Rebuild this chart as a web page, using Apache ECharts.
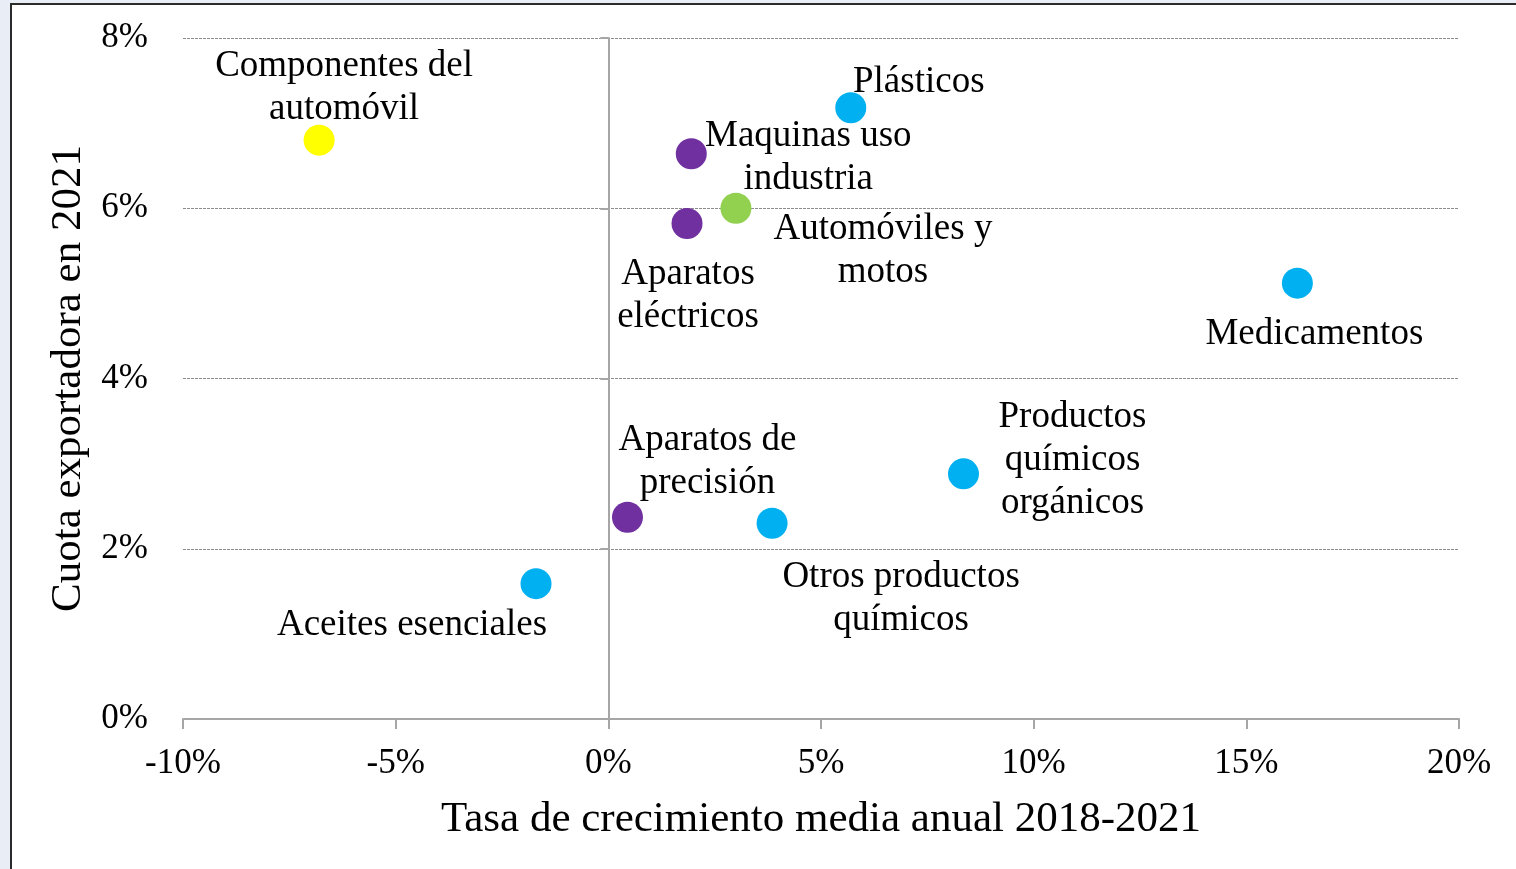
<!DOCTYPE html>
<html>
<head>
<meta charset="utf-8">
<script src="https://cdn.jsdelivr.net/npm/echarts@6/dist/echarts.min.js"></script>
<style>
  html, body { margin: 0; padding: 0; background: #e9eef6; overflow: hidden; }
  #card { position: absolute; left: 10px; top: 3px; width: 1520px; height: 890px; border: 2px solid #2b2b2b; background: #fff; box-sizing: border-box; }
  #chart { position: absolute; left: 0; top: 0; width: 1516px; height: 869px; }
</style>
</head>
<body>
<div id="card"></div>
<div id="chart"></div>
<script>
// datos
var productos = ['Componentes del\nautomóvil', 'Plásticos', 'Maquinas uso\nindustria', 'Automóviles y\nmotos',
  'Aparatos\neléctricos', 'Medicamentos', 'Productos\nquímicos\norgánicos', 'Otros productos\nquímicos',
  'Aparatos de\nprecisión', 'Aceites esenciales'];
var crecimiento = [-6.8, 5.7, 1.95, 3.0, 1.85, 16.2, 8.35, 3.85, 0.45, -1.7]; // % anual 2018-2021
var cuota = [6.8, 7.18, 6.64, 6.0, 5.82, 5.12, 2.88, 2.3, 2.37, 1.59];        // % en 2021
var grupo = ['componentes', 'quimica', 'maquinaria', 'automocion', 'maquinaria', 'quimica', 'quimica', 'quimica', 'maquinaria', 'quimica'];
var xTicks = [-10, -5, 0, 5, 10, 15, 20];
var yTicks = [0, 2, 4, 6, 8];

var colores = { quimica: '#00b0f0', maquinaria: '#7030a0', automocion: '#92d050', componentes: '#ffff00' };
// desplazamiento de las etiquetas (px) respecto al punto
var offsets = [[25, -52], [68, -26], [117, 4], [147, 43], [1, 72], [17, 51], [109, -14], [129, 76], [80, -55], [-124, 42]];

var serif = '"Liberation Serif", "Times New Roman", serif';
var datos = productos.map(function (p, i) {
  return {
    name: p,
    value: [crecimiento[i], cuota[i]],
    itemStyle: { color: colores[grupo[i]], opacity: 1 },
    label: { offset: offsets[i] }
  };
});

var gridLeft = 183, gridRight = 57;
var plotW = 1516 - gridLeft - gridRight;
// posición del eje vertical en x = 0
var zeroOffset = -plotW * (0 - xTicks[0]) / (xTicks[xTicks.length - 1] - xTicks[0]);

var myChart = echarts.init(document.getElementById('chart'));
var option = {
  animation: false,
  grid: { left: gridLeft, right: gridRight, top: 38, bottom: 150 },
  xAxis: {
    type: 'value',
    min: xTicks[0], max: xTicks[xTicks.length - 1], interval: 5,
    name: 'Tasa de crecimiento media anual 2018-2021',
    nameLocation: 'middle', nameGap: 79,
    nameTextStyle: { fontFamily: serif, fontSize: 43, color: '#000' },
    axisLine: { onZero: false, lineStyle: { color: '#a6a6a6', width: 2 } },
    axisTick: { show: true, length: 10, lineStyle: { color: '#a6a6a6', width: 2 } },
    axisLabel: { formatter: '{value}%', fontFamily: serif, fontSize: 35, color: '#000', margin: 27 },
    splitLine: { show: false }
  },
  yAxis: [{
    type: 'value',
    min: yTicks[0], max: yTicks[yTicks.length - 1], interval: 2,
    name: 'Cuota exportadora en 2021',
    nameLocation: 'middle', nameGap: 87,
    nameTextStyle: { fontFamily: serif, fontSize: 43, color: '#000' },
    axisLine: { show: false },
    axisTick: { show: false },
    axisLabel: { formatter: '{value}%', fontFamily: serif, fontSize: 35, color: '#000', margin: 35, padding: [6, 0, 0, 0] },
    splitLine: { show: true, lineStyle: { color: '#8c8c8c', type: [3, 1], width: 1 } }
  }, {
    type: 'value',
    position: 'left',
    offset: zeroOffset,
    min: yTicks[0], max: yTicks[yTicks.length - 1], interval: 2,
    axisLine: { show: true, onZero: false, lineStyle: { color: '#a6a6a6', width: 2 } },
    axisTick: { show: true, length: 8, lineStyle: { color: '#a6a6a6', width: 2 } },
    axisLabel: { show: false },
    splitLine: { show: false }
  }],
  series: [{
    type: 'scatter',
    yAxisIndex: 0,
    symbolSize: 31,
    data: datos,
    label: {
      show: true,
      position: 'inside',
      formatter: '{b}',
      fontFamily: serif,
      fontSize: 37,
      lineHeight: 43,
      color: '#000',
      opacity: 1,
      align: 'center',
      verticalAlign: 'middle'
    }
  }]
};
myChart.setOption(option);
window.addEventListener('resize', function () { myChart.resize(); });
</script>
</body>
</html>
